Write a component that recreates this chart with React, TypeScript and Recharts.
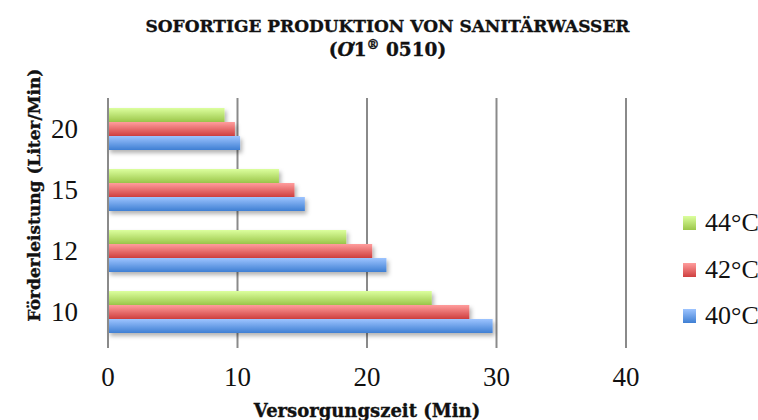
import { Bar, BarChart, CartesianGrid, Label, XAxis, YAxis } from "recharts";

// Förderleistung (Liter/Min) je Temperatur, Versorgungszeit in Minuten.
const flowRates = ["20", "15", "12", "10"];
const at44 = [9.0, 13.2, 18.4, 25.0];
const at42 = [9.8, 14.4, 20.4, 27.9];
const at40 = [10.2, 15.2, 21.5, 29.7];
const xTicks = [0, 10, 20, 30, 40];

const SERIES = [
  { key: "t44", name: "44°C", top: "#dcff9e", bottom: "#9bc64a" },
  { key: "t42", name: "42°C", top: "#ff9d9d", bottom: "#cf3f3f" },
  { key: "t40", name: "40°C", top: "#9dc4ff", bottom: "#3f7fd3" },
];

const data = flowRates.map((rate, i) => ({
  rate,
  t44: at44[i],
  t42: at42[i],
  t40: at40[i],
}));

const FONT = "'Liberation Serif', 'DejaVu Serif', serif";
const BOLD_FONT = "'DejaVu Serif', 'Liberation Serif', serif";
const TICK = { fill: "#111", fontSize: 27, fontFamily: FONT } as const;
const GRID = "#8a8a8a";

function YTitle(props: any) {
  const vb = props.viewBox;
  const x = vb.x + 34;
  const y = vb.y + vb.height / 2 - 25;
  return (
    <text
      x={x}
      y={y}
      transform={`rotate(-90, ${x}, ${y})`}
      textAnchor="middle"
      dominantBaseline="central"
      fontFamily={BOLD_FONT}
      fontWeight="bold"
      fontSize={17}
      fill="#111"
      stroke="#111"
      strokeWidth={0.35}
    >
      Förderleistung (Liter/Min)
    </text>
  );
}

export default function App() {
  return (
    <div
      style={{
        position: "absolute",
        left: 0,
        top: 0,
        width: 758,
        height: 420,
        background: "#fff",
        fontFamily: FONT,
        color: "#111",
      }}
    >
      <div
        style={{
          position: "absolute",
          left: 0,
          top: 14,
          width: 775,
          textAlign: "center",
          fontFamily: BOLD_FONT,
          fontWeight: "bold",
          fontSize: 17,
          lineHeight: "24px",
          WebkitTextStroke: "0.35px #111",
        }}
      >
        <div>SOFORTIGE PRODUKTION VON SANITÄRWASSER</div>
        <div style={{ fontSize: 18.5 }}>
          (<i>Ơ</i>1<sup style={{ fontSize: 13, lineHeight: 0 }}>®</sup> 0510)
        </div>
      </div>

      <BarChart
        width={758}
        height={420}
        data={data}
        layout="vertical"
        margin={{ top: 98, right: 132, bottom: 0, left: 0 }}
        barSize={14}
        barGap={0}
      >
        <defs>
          {SERIES.map((s) => (
            <linearGradient key={s.key} id={`g-${s.key}`} x1="0" y1="0" x2="0" y2="1">
              <stop offset="0%" stopColor={s.top} />
              <stop offset="100%" stopColor={s.bottom} />
            </linearGradient>
          ))}
          <filter id="shade" x="-5%" y="-30%" width="115%" height="190%">
            <feDropShadow dx="2" dy="3" stdDeviation="2" floodColor="#000" floodOpacity="0.3" />
          </filter>
        </defs>
        <CartesianGrid horizontal={false} stroke={GRID} strokeWidth={2} />
        <XAxis
          type="number"
          domain={[0, 40]}
          ticks={xTicks}
          height={78}
          tick={TICK}
          axisLine={false}
          tickLine={{ stroke: GRID, strokeWidth: 2 }}
          tickSize={6}
          tickMargin={19}
        >
          <Label
            value="Versorgungszeit (Min)"
            position="insideBottom"
            offset={3}
            style={{
              fontFamily: BOLD_FONT,
              fontWeight: "bold",
              fontSize: 18,
              fill: "#111",
              stroke: "#111",
              strokeWidth: 0.35,
            }}
          />
        </XAxis>
        <YAxis
          type="category"
          dataKey="rate"
          width={108}
          tick={TICK}
          axisLine={{ stroke: GRID, strokeWidth: 2 }}
          tickLine={false}
          tickMargin={24}
        >
          <Label content={YTitle} />
        </YAxis>
        {SERIES.map((s) => (
          <Bar
            key={s.key}
            dataKey={s.key}
            name={s.name}
            fill={`url(#g-${s.key})`}
            filter="url(#shade)"
            isAnimationActive={false}
          />
        ))}
      </BarChart>

      <div style={{ position: "absolute", left: 683, top: 200 }}>
        {SERIES.map((s) => (
          <div
            key={s.key}
            style={{ display: "flex", alignItems: "center", height: 46.5, fontSize: 26 }}
          >
            <span
              style={{
                display: "inline-block",
                width: 13,
                height: 14,
                marginRight: 9,
                background: `linear-gradient(${s.top}, ${s.bottom})`,
              }}
            />
            {s.name}
          </div>
        ))}
      </div>
    </div>
  );
}
